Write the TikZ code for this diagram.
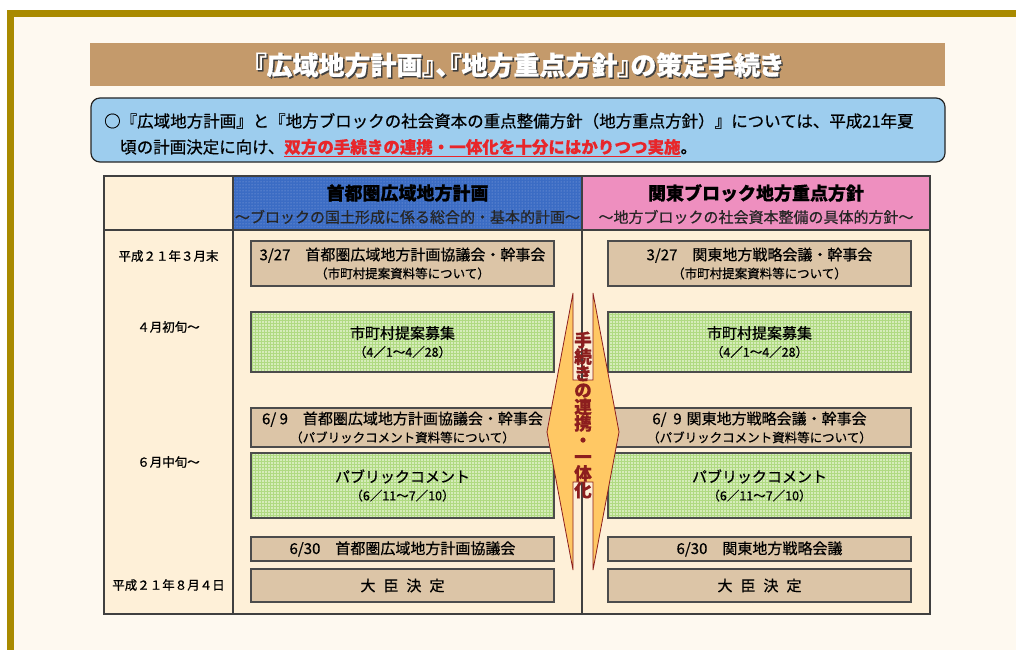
\documentclass[tikz,border=0pt]{standalone}
\usepackage{fontspec}
\setmainfont{Noto Sans CJK JP}[FakeBold=0.6]
\usetikzlibrary{patterns}
\definecolor{frameGold}{RGB}{169,138,0}
\definecolor{pageBg}{RGB}{254,249,240}
\definecolor{titleTan}{RGB}{196,154,107}
\definecolor{noteBlue}{RGB}{157,205,238}
\definecolor{tableBg}{RGB}{254,240,216}
\definecolor{headBlue}{RGB}{59,108,196}
\definecolor{headDots}{RGB}{150,175,225}
\definecolor{headPink}{RGB}{238,143,191}
\definecolor{boxTan}{RGB}{220,197,167}
\definecolor{boxGreen}{RGB}{214,236,186}
\definecolor{gridGreen}{RGB}{176,218,130}
\definecolor{keyRed}{RGB}{232,38,42}
\definecolor{arrowFill}{RGB}{255,200,100}
\definecolor{arrowLine}{RGB}{140,30,30}
\newcommand\subline[1]{{\fontsize{12.5}{18}\selectfont #1}}
\begin{document}
\begin{tikzpicture}[x=1pt,y=-1pt,
  box/.style={draw=black!70,line width=1.2pt,fill=boxTan,minimum width=303,align=center,inner sep=0pt,font=\fontsize{15}{18}\selectfont},
  green box/.style={box,preaction={fill=boxGreen},pattern=grid,pattern color=gridGreen},
  when/.style={font=\fontsize{12.5}{14}\selectfont},
  head/.style={font=\bfseries\fontsize{18}{20}\selectfont},
  head sub/.style={font=\fontsize{15}{17}\selectfont,text=black!85},
  title text/.style={font=\bfseries\fontsize{26}{28}\selectfont\addfontfeatures{RawFeature=+palt}}]
  \useasboundingbox (0,0) rectangle (1016,650);
  \fill[white] (0,0) rectangle (1016,650);
  \fill[frameGold] (7,10) rectangle (1016,650);
  \fill[pageBg] (14,17) rectangle (1016,650);

  % title and note
  \fill[titleTan] (90,43) rectangle (945,86);
  \node[title text,text=black!75] at (519.5,66.5) (titleshadow) {『広域地方計画』、『地方重点方針』の策定手続き};
  \node[title text,text=white] at (518,65) (title) {『広域地方計画』、『地方重点方針』の策定手続き};
  \draw[fill=noteBlue,draw=black!85,line width=1.2pt,rounded corners=9] (91,98) rectangle (945,162);
  \node[anchor=west,inner sep=0,font=\fontsize{16.5}{18}\selectfont] at (104,121) (note1) {○『広域地方計画』と『地方ブロックの社会資本の重点整備方針（地方重点方針）』については、平成21年夏};
  \node[anchor=west,inner sep=0,font=\fontsize{16.5}{18}\selectfont] at (120,148) (note2) {頃の計画決定に向け、{\color{keyRed}\bfseries\underline{双方の手続きの連携・一体化を十分にはかりつつ実施}}。};

  % table
  \fill[tableBg] (104,176) rectangle (930,614);
  \fill[headBlue] (233,176) rectangle (582,230);
  \path[pattern=dots,pattern color=headDots] (233,176) rectangle (582,230);
  \fill[headPink] (582,176) rectangle (930,230);
  \draw[black!75,line width=1.2pt] (104,176) rectangle (930,614) (104,230) -- (930,230) (233,176) -- (233,614) (582,176) -- (582,614);
  \node[head] at (407.5,193) (shutoken) {首都圏広域地方計画};
  \node[head sub] at (407.5,217) (shutokensub) {～ブロックの国土形成に係る総合的・基本的計画～};
  \node[head] at (756,193) (kanto) {関東ブロック地方重点方針};
  \node[head sub] at (756,217) (kantosub) {～地方ブロックの社会資本整備の具体的方針～};

  \node[when] at (168.5,256) (t1) {平成２１年３月末};
  \node[when] at (168.5,327) (t2) {４月初旬～};
  \node[when] at (168.5,462) (t3) {６月中旬～};
  \node[when] at (168.5,585) (t4) {平成２１年８月４日};

  \node[box,minimum height=45] at (402.5,263.5) (s1) {3/27\quad 首都圏広域地方計画協議会・幹事会\\\subline{（市町村提案資料等について）}};
  \node[green box,minimum height=60] at (402.5,342) (s2) {市町村提案募集\\\subline{（4／1～4／28）}};
  \node[box,minimum height=39] at (402.5,427.5) (s3) {6/ 9\quad 首都圏広域地方計画協議会・幹事会\\\subline{（パブリックコメント資料等について）}};
  \node[green box,minimum height=65] at (402.5,485.5) (s4) {パブリックコメント\\\subline{（6／11～7／10）}};
  \node[box,minimum height=24] at (402.5,549) (s5) {6/30\quad 首都圏広域地方計画協議会};
  \node[box,minimum height=33] at (402.5,585.5) (s6) {大\hspace{8pt}臣\hspace{8pt}決\hspace{8pt}定};

  \node[box,minimum height=45] at (759.5,263.5) (k1) {3/27\quad 関東地方戦略会議・幹事会\\\subline{（市町村提案資料等について）}};
  \node[green box,minimum height=60] at (759.5,342) (k2) {市町村提案募集\\\subline{（4／1～4／28）}};
  \node[box,minimum height=39] at (759.5,427.5) (k3) {6/\ \ 9\hspace{5pt}関東地方戦略会議・幹事会\\\subline{（パブリックコメント資料等について）}};
  \node[green box,minimum height=65] at (759.5,485.5) (k4) {パブリックコメント\\\subline{（6／11～7／10）}};
  \node[box,minimum height=24] at (759.5,549) (k5) {6/30\quad 関東地方戦略会議};
  \node[box,minimum height=33] at (759.5,585.5) (k6) {大\hspace{8pt}臣\hspace{8pt}決\hspace{8pt}定};

  % link between both procedures
  \filldraw[fill=arrowFill,draw=arrowLine,line width=0.8pt] (573,293) -- (547,432) -- (573,570) -- (573,482) -- (593,482) -- (593,570) -- (619,432) -- (593,293) -- (593,380) -- (573,380) -- cycle;
  \node[align=center,inner sep=0,text=arrowLine,font=\bfseries\fontsize{17.5}{16.67}\selectfont] at (583,415) (renkei) {手\\続\\き\\の\\連\\携\\・\\一\\体\\化};
\end{tikzpicture}
\end{document}
